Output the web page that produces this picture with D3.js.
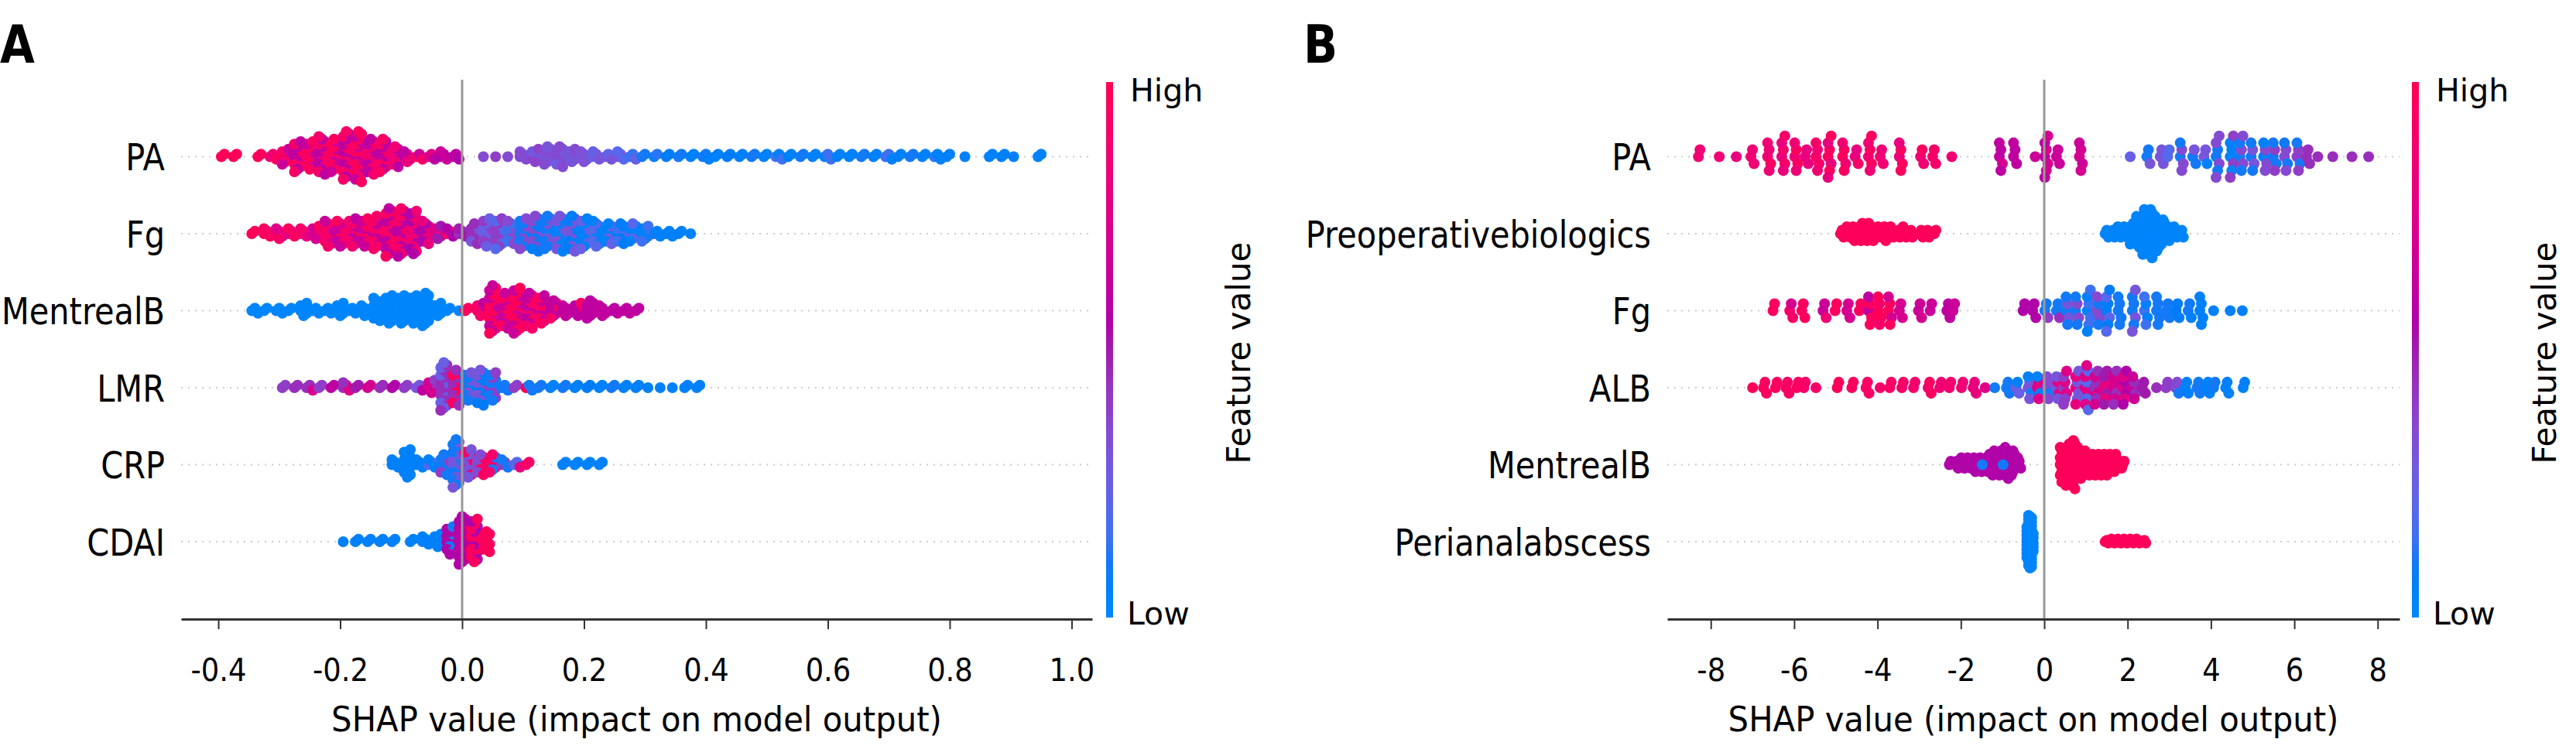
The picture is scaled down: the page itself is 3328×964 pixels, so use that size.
<!DOCTYPE html>
<html>
<head>
<meta charset="utf-8">
<script src="https://cdn.jsdelivr.net/npm/d3@7"></script>
<style>
  body { margin: 0; background: #fff; }
  svg { display: block; }
  text { font-family: "DejaVu Sans", Verdana, sans-serif; fill: #000; }
</style>
</head>
<body>
<div id="chart"></div>
<script>
const W = 3328, H = 964;

// ---- panel A ----
const featuresA = ['PA', 'Fg', 'MentrealB', 'LMR', 'CRP', 'CDAI'];
const ticksA = [-0.4, -0.2, 0, 0.2, 0.4, 0.6, 0.8, 1.0];
const tickLabelsA = ['-0.4', '-0.2', '0.0', '0.2', '0.4', '0.6', '0.8', '1.0'];

// each column: [SHAP value, points in the column, feature value (0 low - 1 high), second feature value]
const paA = [[-0.39,2,0.97],[-0.37,2,0.97],[-0.33,2,0.97],[-0.31,3,0.95,0.85],[-0.29,7,0.92,0.65],[-0.27,13,0.9,0.6],
  [-0.25,12,0.95,0.65],[-0.23,16,0.88,0.6],[-0.21,14,0.95,0.65],[-0.19,20,0.9,0.6],[-0.17,21,0.95,0.65],[-0.15,15,0.88,0.6],
  [-0.13,14,0.92,0.6],[-0.11,9,0.85,0.6],[-0.09,5,0.8,0.6],[-0.07,3,0.9,0.65],[-0.05,3,0.75,0.6],[-0.03,4,0.65,0.55],
  [-0.01,3,0.6,0.55],[0.04,1,0.35],[0.06,1,0.4],[0.08,1,0.35],[0.10,4,0.35,0.3],[0.12,6,0.38,0.28],[0.14,8,0.35,0.3],
  [0.16,9,0.35,0.28],[0.18,6,0.35,0.3],[0.20,5,0.32,0.28],[0.22,4,0.3,0.25],[0.24,3,0.3,0.22],[0.26,4,0.3,0.2],[0.28,3,0.25,0.15],
  [0.30,2,0.1,0.2],[0.32,2,0.12,0.05],[0.34,2,0.08],[0.36,2,0.1],[0.38,2,0.05],[0.40,3,0.1,0.05],[0.42,2,0.05],[0.44,2,0.08],
  [0.46,2,0.05],[0.48,2,0.1],[0.50,2,0.05],[0.52,3,0.15,0.05],[0.54,2,0.05],[0.56,2,0.1],[0.58,2,0.05],[0.60,3,0.15,0.05],
  [0.62,2,0.05],[0.64,2,0.05],[0.66,2,0.1],[0.68,2,0.05],[0.70,3,0.05,0.15],[0.72,2,0.05],[0.74,2,0.1],[0.76,2,0.05],
  [0.78,3,0.05,0.12],[0.80,2,0.05],[0.83,1,0.05],[0.87,2,0.05],[0.89,2,0.05],[0.91,1,0.05],[0.95,2,0.05]];
const fgA = [[-0.34,2,0.97],[-0.32,4,0.95,0.8],[-0.30,5,0.9,0.75],[-0.28,4,0.95,0.75],[-0.26,4,0.9,0.8],[-0.24,6,0.95,0.7],
  [-0.22,11,0.9,0.65],[-0.20,11,0.95,0.65],[-0.18,12,0.88,0.6],[-0.16,12,0.95,0.65],[-0.14,14,0.9,0.6],[-0.12,20,0.92,0.6],
  [-0.10,20,0.9,0.6],[-0.08,18,0.85,0.55],[-0.06,10,0.8,0.55],[-0.04,6,0.75,0.5],[-0.02,4,0.85,0.55],[0.00,4,0.5,0.45],
  [0.02,9,0.45,0.3],[0.04,12,0.4,0.25],[0.06,13,0.4,0.2],[0.08,10,0.35,0.15],[0.10,13,0.1,0.35],[0.12,15,0.08,0.35],
  [0.14,14,0.1,0.3],[0.16,15,0.05,0.3],[0.18,15,0.08,0.3],[0.20,13,0.05,0.25],[0.22,11,0.05,0.2],[0.24,9,0.05,0.25],
  [0.26,9,0.08,0.15],[0.28,8,0.05,0.2],[0.30,7,0.05,0.15],[0.32,3,0.05,0.1],[0.34,3,0.05],[0.36,2,0.05],[0.38,1,0.05]];
const mentrealA = [[-0.34,3,0.02],[-0.32,2,0.02],[-0.30,3,0.02],[-0.28,2,0.02],[-0.26,6,0.02],[-0.24,3,0.02],[-0.22,3,0.02],
  [-0.20,6,0.02],[-0.18,3,0.02],[-0.16,5,0.02],[-0.14,10,0.02],[-0.12,12,0.02],[-0.10,12,0.02],[-0.08,12,0.02],[-0.06,14,0.02],
  [-0.04,6,0.02],[-0.02,2,0.02],[0.00,1,0.02],[0.01,2,0.95],[0.03,6,0.6,0.9],[0.05,20,0.97,0.65],[0.07,15,0.95,0.65],
  [0.09,19,0.97,0.65],[0.11,15,0.9,0.62],[0.13,12,0.92,0.62],[0.15,8,0.62,0.9],[0.17,5,0.62],[0.19,6,0.6,0.9],[0.21,8,0.6],
  [0.23,5,0.62],[0.25,3,0.6],[0.27,3,0.6],[0.29,2,0.6]];
const lmrA = [[-0.29,2,0.4],[-0.27,2,0.45],[-0.25,3,0.45,0.7],[-0.23,2,0.4],[-0.21,2,0.6],[-0.19,4,0.75,0.45],[-0.17,2,0.5],
  [-0.15,2,0.7],[-0.13,2,0.45],[-0.11,2,0.55],[-0.09,2,0.4],[-0.07,3,0.3,0.6],[-0.05,6,0.4,0.7],[-0.03,20,0.45,0.25],
  [-0.01,15,0.95,0.45],[0.01,12,0.1,0.3],[0.03,15,0.08,0.3],[0.05,12,0.1,0.4],[0.07,3,0.1],[0.09,2,0.4],[0.11,3,0.95,0.1],
  [0.13,2,0.1],[0.15,2,0.05],[0.17,2,0.1],[0.19,2,0.05],[0.21,2,0.08],[0.23,2,0.05],[0.25,2,0.1],[0.27,2,0.05],[0.29,2,0.05],
  [0.31,1,0.05],[0.33,1,0.05],[0.35,1,0.05],[0.37,2,0.05],[0.39,2,0.05]];
const crpA = [[-0.11,4,0.05],[-0.09,12,0.05],[-0.07,4,0.05],[-0.05,4,0.05,0.2],[-0.03,9,0.1,0.4],[-0.01,20,0.1,0.3],
  [0.01,12,0.3,0.9],[0.03,9,0.95,0.35],[0.05,8,0.9,0.1],[0.07,4,0.4,0.1],[0.09,3,0.8,0.2],[0.11,2,0.9],
  [0.17,2,0.05],[0.19,2,0.05],[0.21,2,0.05],[0.23,2,0.05]];
const cdaiA = [[-0.19,1,0.05],[-0.17,2,0.05],[-0.15,2,0.05],[-0.13,2,0.05],[-0.11,2,0.05],[-0.08,2,0.05],[-0.06,4,0.05],
  [-0.04,6,0.05],[-0.02,12,0.55,0.1],[0.00,20,0.55,0.6],[0.02,18,0.95,0.55],[0.04,9,0.97]];

// ---- panel B ----
const featuresB = ['PA', 'Preoperativebiologics', 'Fg', 'ALB', 'MentrealB', 'Perianalabscess'];
const ticksB = [-8, -6, -4, -2, 0, 2, 4, 6, 8];
const tickLabelsB = ['-8', '-6', '-4', '-2', '0', '2', '4', '6', '8'];

const paB = [[-8.26,2,0.85],[-7.76,1,0.85],[-7.35,1,0.8],[-7.0,3,0.85],[-6.6,5,0.85,0.95],[-6.26,6,0.9,0.8],[-5.95,5,0.85,0.95],
  [-5.7,3,0.8],[-5.44,5,0.9,0.85],[-5.15,7,0.95,0.8],[-4.8,5,0.85,0.95],[-4.5,3,0.8,0.9],[-4.18,6,0.95,0.85],[-3.9,3,0.85],
  [-3.44,5,0.95,0.8],[-2.93,3,0.85,0.95],[-2.64,3,0.9],[-2.18,1,0.85],
  [-1.04,5,0.6,0.7],[-0.7,4,0.6],[-0.18,1,0.65],[0.05,7,0.7,0.6],[0.33,3,0.65],[0.88,5,0.7,0.65],
  [2.1,1,0.25],[2.5,3,0.1,0.3],[2.82,3,0.3],[3.0,2,0.2],[3.3,5,0.35,0.1],[3.6,3,0.1,0.3],[3.87,3,0.3,0.05],[4.16,7,0.35,0.1],
  [4.5,7,0.05,0.4],[4.73,6,0.35,0.1],[5.0,5,0.1,0.3],[5.3,5,0.35,0.05],[5.53,5,0.1,0.4],[5.8,5,0.35,0.1],[6.1,5,0.1,0.4],
  [6.33,3,0.45],[6.6,1,0.45],[6.96,1,0.45],[7.42,1,0.45],[7.82,1,0.45]];
const preopB = [[-4.85,3,0.97],[-4.7,4,0.97],[-4.55,5,0.97],[-4.4,6,0.97],[-4.25,6,0.97],[-4.1,5,0.97],[-3.95,4,0.97],
  [-3.8,5,0.97],[-3.65,4,0.97],[-3.5,3,0.97],[-3.35,4,0.97],[-3.2,3,0.97],[-2.95,3,0.97],[-2.8,3,0.97],[-2.6,2,0.97],
  [1.5,3,0.03],[1.65,3,0.03],[1.8,4,0.03],[1.95,4,0.03],[2.1,7,0.03],[2.25,10,0.03],[2.4,14,0.03],[2.55,15,0.03],
  [2.7,11,0.03],[2.85,8,0.03],[3.0,5,0.03],[3.15,4,0.03],[3.3,3,0.03]];
const fgB = [[-6.47,2,0.95],[-6.07,3,0.9,0.7],[-5.78,3,0.95],[-5.27,3,0.85,0.65],[-4.98,2,0.95],[-4.7,3,0.7],[-4.4,2,0.95],
  [-4.18,5,0.95,0.6],[-3.95,5,0.97,0.9],[-3.7,5,0.95,0.7],[-3.44,3,0.7],[-2.98,3,0.65,0.7],[-2.7,2,0.65],[-2.3,3,0.6],[-2.15,2,0.65],
  [-0.47,2,0.55],[-0.24,3,0.55],[0.05,3,0.4,0.1],[0.33,3,0.1,0.45],[0.56,5,0.3,0.1],[0.79,5,0.1,0.35],[1.07,7,0.15,0.05],
  [1.3,5,0.35,0.1],[1.53,7,0.08,0.2],[1.81,5,0.1],[2.15,7,0.1,0.3],[2.44,5,0.05,0.15],[2.73,5,0.1],[2.97,3,0.1],[3.2,3,0.08],
  [3.49,3,0.1,0.05],[3.77,5,0.05],[4.1,1,0.05],[4.5,1,0.05],[4.79,1,0.05]];
const albB = [[-6.96,1,0.97],[-6.7,3,0.95],[-6.41,2,0.95],[-6.16,3,0.92],[-5.9,2,0.95],[-5.73,2,0.9],[-5.44,1,0.9],[-4.93,2,0.97],
  [-4.58,2,0.95],[-4.24,3,0.92],[-3.9,1,0.9],[-3.67,2,0.92],[-3.38,2,0.9],[-3.1,2,0.88],[-2.75,3,0.95,0.85],[-2.47,2,0.85],
  [-2.24,2,0.88],[-1.95,2,0.85],[-1.67,3,0.8],[-1.38,1,0.75],[-1.15,1,0.1],
  [-0.87,3,0.1],[-0.64,3,0.25,0.05],[-0.35,5,0.3,0.05],[-0.13,5,0.05,0.75],[0.1,5,0.35,0.1],[0.33,5,0.8,0.3],[0.5,7,0.4,0.75],
  [0.79,7,0.3,0.8],[1.02,9,0.75,0.2],[1.25,7,0.45,0.7],[1.47,7,0.5,0.8],[1.7,7,0.7,0.45],[1.93,7,0.55,0.75],[2.16,5,0.65,0.45],
  [2.39,3,0.5],[2.73,1,0.45],[2.96,2,0.4],[3.19,3,0.1,0.35],[3.42,3,0.05],[3.7,3,0.1],[3.93,3,0.05],[4.1,2,0.1],[4.39,3,0.05],[4.81,2,0.05]];
const mentrealB = [[-2.24,2,0.55],[-2.1,3,0.55],[-1.95,4,0.55],[-1.8,4,0.55],[-1.65,5,0.55],[-1.5,5,0.55],[-1.35,6,0.55],
  [-1.2,8,0.55],[-1.04,8,0.55],[-0.9,10,0.55],[-0.75,8,0.55],[-0.6,4,0.55],[-1.45,1,0.1],[-0.95,1,0.1],
  [0.42,11,0.97],[0.56,13,0.97],[0.7,15,0.97],[0.84,10,0.97],[0.98,8,0.97],[1.12,7,0.97],[1.26,7,0.97],[1.4,7,0.97],
  [1.54,7,0.97],[1.68,6,0.97],[1.82,3,0.97],[1.92,2,0.97]];
const perianalB = [[-0.38,25,0.03],[-0.34,41,0.03],[-0.30,15,0.03],
  [1.5,3,0.97],[1.65,4,0.97],[1.8,4,0.97],[1.95,4,0.97],[2.1,4,0.97],[2.25,4,0.97],[2.4,3,0.97]];

// shap's red_blue map: lightness dips to 40 in the middle, hue turns from blue through purple to red
const shapColor = t => d3.hcl(266.9 + t * (380.3 - 266.9), 70 + 20 * t,
  t < 0.5 ? 54 - 28 * t : 40 + 28 * (t - 0.5)).formatHex();

const ROW = 99.5, AXIS_Y = 800, TOP = 103;

// beeswarm stacking like shap: layer L goes ceil(L/2) up or down, scaled by the tallest column
function layoutRow(entries, jitter) {
  const maxYs = d3.max(entries, e => Math.floor(e[1] / 2));
  const step = 0.9 * 0.4 * ROW / (maxYs + 1);
  const pts = [];
  entries.forEach((e, ci) => {
    const [s, n, fa] = e;
    const fb = e.length > 3 ? e[3] : fa;
    for (let L = 0; L < n; L++) {
      const ring = Math.ceil(L / 2);
      const ys = ring * (L % 2 ? 1 : -1);
      // spread the two colours of a column over its layers
      const useB = (L * 5 + ci * 3) % 7 < 3;
      pts.push({ s, dy: -ys * step, dx: ((L % 3) - 1) * jitter, fv: useB ? fb : fa });
    }
  });
  return pts;
}

const svg = d3.select('#chart').append('svg')
  .attr('width', W)
  .attr('height', H);

const grad = svg.append('defs').append('linearGradient')
  .attr('id', 'cbar')
  .attr('x1', 0).attr('y1', 1).attr('x2', 0).attr('y2', 0);
d3.range(0, 1.0001, 0.05).forEach(t => {
  grad.append('stop').attr('offset', t).attr('stop-color', shapColor(t));
});

const panels = [
  { letter: 'A', letterX: 0, features: featuresA, rows: [paA, fgA, mentrealA, lmrA, crpA, cdaiA],
    domain: [-0.461, 1.0337], range: [234, 1411], ticks: ticksA, tickLabels: tickLabelsA,
    labelX: 213, barX: 1429, fvX: 1600, jitter: 4 },
  { letter: 'B', letterX: 1684, features: featuresB, rows: [paB, preopB, fgB, albB, mentrealB, perianalB],
    domain: [-9.044, 8.524], range: [2154, 3100], ticks: ticksB, tickLabels: tickLabelsB,
    labelX: 2133, barX: 3116, fvX: 3287, jitter: 2 }
];

panels.forEach(p => {
  const g = svg.append('g');
  const x = d3.scaleLinear().domain(p.domain).range(p.range);
  const y = d3.scalePoint().domain(p.features).range([TOP + ROW, TOP + ROW * 6]);

  g.append('text')
    .attr('transform', `translate(${p.letterX},81) scale(0.865,1)`)
    .attr('font-size', 67)
    .attr('font-weight', 'bold')
    .text(p.letter);

  g.selectAll('line.grid')
    .data(p.features)
    .join('line')
    .attr('class', 'grid')
    .attr('x1', p.range[0]).attr('x2', p.range[1])
    .attr('y1', d => y(d)).attr('y2', d => y(d))
    .attr('stroke', '#cccccc')
    .attr('stroke-width', 2)
    .attr('stroke-dasharray', '2 7');

  g.selectAll('text.feat')
    .data(p.features)
    .join('text')
    .attr('class', 'feat')
    .attr('transform', d => `translate(${p.labelX},${y(d)}) scale(0.865,1)`)
    .attr('text-anchor', 'end')
    .attr('dy', '0.365em')
    .attr('font-size', 48)
    .text(d => d);

  p.rows.forEach((entries, i) => {
    const cy = y(p.features[i]);
    g.append('g').selectAll('circle')
      .data(layoutRow(entries, p.jitter))
      .join('circle')
      .attr('cx', d => x(d.s) + d.dx)
      .attr('cy', d => cy + d.dy)
      .attr('r', 7)
      .attr('fill', d => shapColor(d.fv));
  });

  g.append('line')
    .attr('x1', x(0)).attr('x2', x(0))
    .attr('y1', TOP).attr('y2', AXIS_Y)
    .attr('stroke', '#999999')
    .attr('stroke-width', 3);

  const ax = g.append('g')
    .attr('transform', `translate(0,${AXIS_Y})`)
    .call(d3.axisBottom(x)
      .tickValues(p.ticks)
      .tickFormat(d => p.tickLabels[p.ticks.indexOf(d)])
      .tickSize(13)
      .tickSizeOuter(0))
    .attr('font-family', 'DejaVu Sans')
    .attr('font-size', 41);
  ax.select('.domain').attr('stroke', '#333').attr('stroke-width', 3);
  ax.selectAll('.tick line').attr('stroke', '#333').attr('stroke-width', 2);
  ax.selectAll('.tick text')
    .attr('fill', '#000')
    .attr('y', 51)
    .attr('dy', '0.71em')
    .attr('transform', 'scale(0.9,1)');

  g.append('text')
    .attr('transform', `translate(${(p.range[0] + p.range[1]) / 2},945) scale(0.95,1)`)
    .attr('text-anchor', 'middle')
    .attr('font-size', 44)
    .text('SHAP value (impact on model output)');

  // colour bar
  g.append('rect')
    .attr('x', p.barX).attr('y', 106)
    .attr('width', 9).attr('height', 692)
    .attr('fill', 'url(#cbar)');
  g.append('text')
    .attr('x', p.barX + 31).attr('y', 131)
    .attr('font-size', 41)
    .text('High');
  g.append('text')
    .attr('x', p.barX + 27).attr('y', 807)
    .attr('font-size', 41)
    .text('Low');
  g.append('text')
    .attr('transform', `translate(${p.fvX},456) rotate(-90)`)
    .attr('text-anchor', 'middle')
    .attr('dy', '0.35em')
    .attr('font-size', 42)
    .text('Feature value');
});
</script>
</body>
</html>
